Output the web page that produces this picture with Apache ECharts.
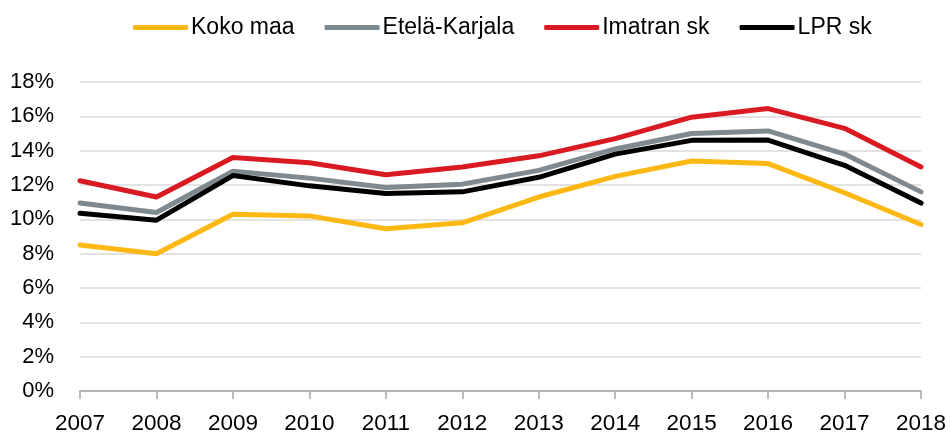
<!DOCTYPE html>
<html>
<head>
<meta charset="utf-8">
<script src="https://cdn.jsdelivr.net/npm/echarts@6/dist/echarts.min.js"></script>
<style>
  html, body { margin: 0; padding: 0; background: #fff; }
  #chart { width: 950px; height: 435px; }
</style>
</head>
<body>
<div id="chart"></div>
<script>
const years = ['2007', '2008', '2009', '2010', '2011', '2012', '2013', '2014', '2015', '2016', '2017', '2018'];
const kokoMaa = [8.5, 8.0, 10.3, 10.2, 9.45, 9.8, 11.3, 12.5, 13.4, 13.25, 11.55, 9.7];
const etelaKarjala = [10.95, 10.4, 12.8, 12.4, 11.85, 12.05, 12.85, 14.1, 15.0, 15.15, 13.8, 11.6];
const imatranSk = [12.25, 11.3, 13.6, 13.3, 12.6, 13.05, 13.7, 14.7, 15.95, 16.45, 15.3, 13.05];
const lprSk = [10.35, 9.95, 12.55, 11.95, 11.5, 11.6, 12.45, 13.8, 14.6, 14.62, 13.15, 10.95];

const font = 'Liberation Sans';

const myChart = echarts.init(document.getElementById('chart'));

const mkSeries = (name, data, color) => ({
    name: name,
    type: 'line',
    data: data,
    showSymbol: false,
    symbol: 'none',
    lineStyle: { width: 5, color: color, cap: 'round', join: 'round' },
    itemStyle: { color: color },
});

const option = {
    animation: false,
    legend: {
        top: 11,
        left: 128,
        itemWidth: 55,
        itemHeight: 5,
        itemGap: 30,
        icon: 'roundRect',
        textStyle: { fontFamily: font, fontSize: 23, color: '#000', padding: [0, 0, 0, -2] },
        data: ['Koko maa', 'Etelä-Karjala', 'Imatran sk', 'LPR sk'],
    },
    grid: {
        left: 80,
        right: 29,
        top: 82,
        bottom: 44,
        containLabel: false,
    },
    xAxis: {
        type: 'category',
        boundaryGap: false,
        data: years,
        axisLine: { lineStyle: { color: '#a6a6a6', width: 1.5 } },
        axisTick: { show: true, length: 8, lineStyle: { color: '#a6a6a6', width: 1.5 } },
        axisLabel: { fontFamily: font, fontSize: 22.5, color: '#000', margin: 21 },
        splitLine: { show: false },
    },
    yAxis: {
        type: 'value',
        min: 0,
        max: 18,
        interval: 2,
        axisLine: { show: false },
        axisTick: { show: false },
        axisLabel: {
            fontFamily: font, fontSize: 22, color: '#000', margin: 26,
            formatter: (v) => v + '%',
        },
        splitLine: { lineStyle: { color: '#d9d9d9', width: 1.5 } },
    },
    series: [
        mkSeries('Koko maa', kokoMaa, '#FDB813'),
        mkSeries('Etelä-Karjala', etelaKarjala, '#7F8990'),
        mkSeries('Imatran sk', imatranSk, '#DA1A22'),
        mkSeries('LPR sk', lprSk, '#000000'),
    ],
};

myChart.setOption(option);
</script>
</body>
</html>
